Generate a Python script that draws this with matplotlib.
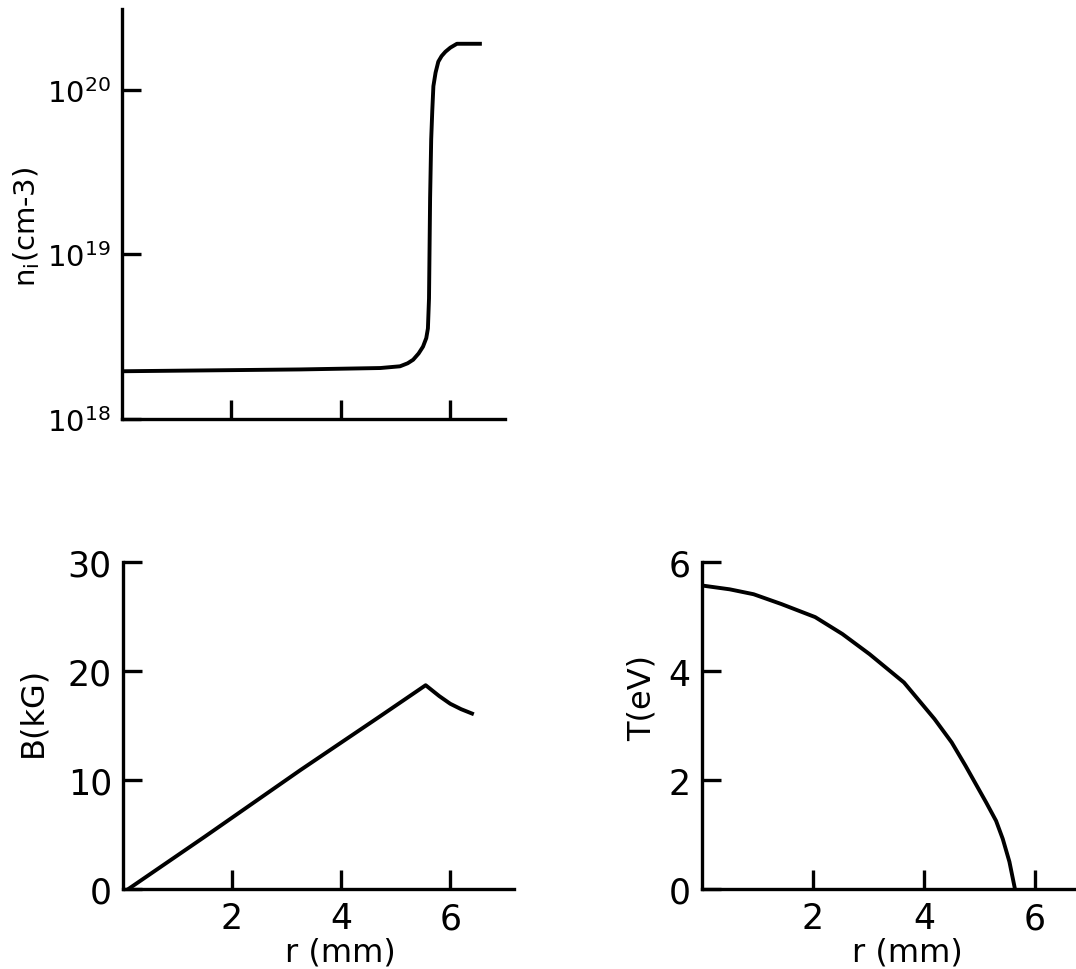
import numpy as np
import matplotlib.pyplot as plt

# ion density profile n_i(r)
r_n = [0.0, 3.25, 4.72, 5.08, 5.22, 5.32, 5.42, 5.50, 5.56, 5.59, 5.61, 5.63, 5.65, 5.67,
       5.69, 5.73, 5.78, 5.84, 5.91, 6.0, 6.12, 6.54]
n_i = [1.95e18, 2.0e18, 2.04e18, 2.09e18, 2.18e18, 2.29e18, 2.5e18, 2.75e18, 3.1e18,
       3.55e18, 5.4e18, 2.2e19, 5.0e19, 7.5e19, 1.05e20, 1.27e20, 1.48e20, 1.6e20,
       1.7e20, 1.8e20, 1.9e20, 1.9e20]

# magnetic field B(r) in kG
r_b = [0.1, 1.5, 3.25, 4.7, 5.55, 5.8, 6.0, 6.2, 6.4]
b_kg = [0.0, 4.8, 10.9, 15.8, 18.7, 17.7, 17.0, 16.5, 16.1]

# temperature T(r) in eV
r_t = [0.0, 0.5, 0.93, 1.43, 2.04, 2.53, 3.02, 3.64, 4.19, 4.5, 4.75, 5.12, 5.3, 5.42, 5.54, 5.64]
t_ev = [5.57, 5.50, 5.41, 5.23, 4.99, 4.68, 4.31, 3.79, 3.12, 2.69, 2.26, 1.59, 1.25, 0.92, 0.5, 0.0]

r_ticks = [2, 4, 6]

plt.rcParams['font.family'] = 'DejaVu Sans'
LW = 2.8
SPINE = 2.4


def style(ax):
    for side in ['top', 'right']:
        ax.spines[side].set_visible(False)
    for side in ['left', 'bottom']:
        ax.spines[side].set_linewidth(SPINE)
    ax.tick_params(direction='in', length=14, width=SPINE, labelsize=25, pad=8)
    ax.tick_params(axis='x', pad=9)
    ax.minorticks_off()


fig = plt.figure(figsize=(10.76, 9.70), dpi=100)

# top: density
ax1 = fig.add_axes([0.1134, 0.567, 0.356, 0.4227])
ax1.semilogy(r_n, n_i, color='black', lw=LW, solid_joinstyle='round')
ax1.set_xlim(0, 7.0)
ax1.set_ylim(1e18, 10 ** 20.49)
style(ax1)
ax1.set_yticks([1e18, 1e19, 1e20])
ax1.set_yticklabels([r'$\mathregular{10^{18}}$', r'$\mathregular{10^{19}}$', r'$\mathregular{10^{20}}$'],
                    fontsize=21)
ax1.yaxis.set_minor_locator(plt.NullLocator())
ax1.set_xticks(r_ticks)
ax1.set_xticklabels([])
ax1.set_ylabel(r'n$_\mathregular{i}$(cm-3)', fontsize=21, va='center')
ax1.yaxis.set_label_coords(-0.25, 0.47)

# bottom left: field
ax2 = fig.add_axes([0.1143, 0.0825, 0.3634, 0.337])
ax2.plot(r_b, b_kg, color='black', lw=LW, solid_joinstyle='round')
ax2.set_xlim(0, 7.17)
ax2.set_ylim(0, 30)
style(ax2)
ax2.set_yticks([0, 10, 20, 30])
ax2.set_xticks(r_ticks)
ax2.set_ylabel('B(kG)', fontsize=23, va='center')
ax2.yaxis.set_label_coords(-0.23, 0.544)
ax2.set_xlabel('r (mm)', fontsize=23, va='center')
ax2.xaxis.set_label_coords(0.555, -0.193)

# bottom right: temperature
ax3 = fig.add_axes([0.6524, 0.0825, 0.3476, 0.337])
ax3.plot(r_t, t_ev, color='black', lw=LW, solid_joinstyle='round')
ax3.set_xlim(0, 6.74)
ax3.set_ylim(0, 6)
style(ax3)
ax3.set_yticks([0, 2, 4, 6])
ax3.set_xticks(r_ticks)
ax3.set_ylabel('T(eV)', fontsize=23, va='center')
ax3.yaxis.set_label_coords(-0.16, 0.587)
ax3.set_xlabel('r (mm)', fontsize=23, va='center')
ax3.xaxis.set_label_coords(0.55, -0.193)

for ax in (ax1, ax2, ax3):
    for sp in ax.spines.values():
        sp.set_capstyle('projecting')
    ax.patch.set_visible(False)

fig.savefig('out.png', dpi=100)
